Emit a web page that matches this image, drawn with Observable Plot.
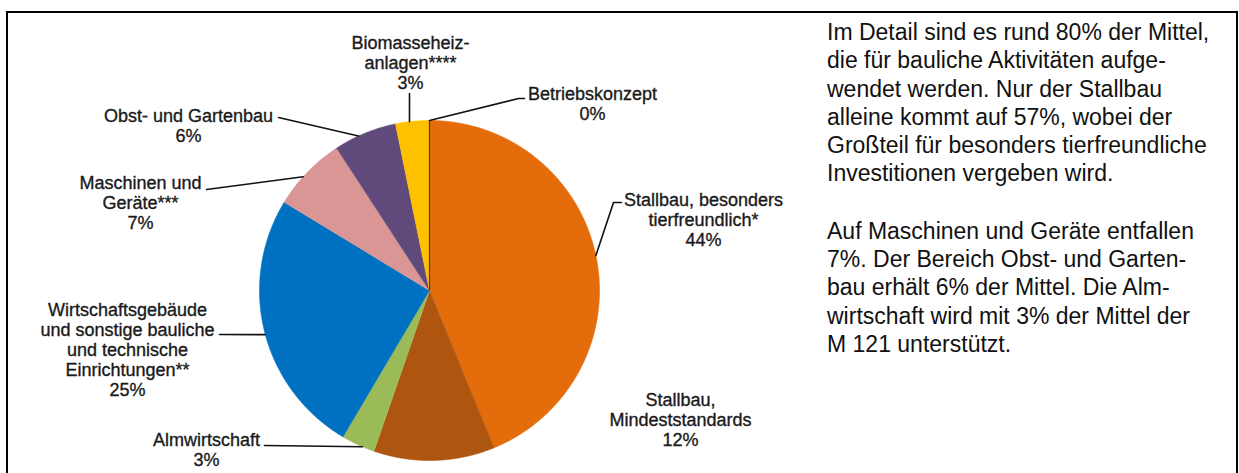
<!DOCTYPE html>
<html><head><meta charset="utf-8">
<script src="https://cdn.jsdelivr.net/npm/d3@7"></script>
<script src="https://cdn.jsdelivr.net/npm/@observablehq/plot@0.6"></script>
<style>
body{margin:0;background:#fff;}
#wrap{position:relative;width:1239px;height:473px;overflow:hidden;font-family:"Liberation Sans",Arial,Helvetica,sans-serif;background:#fff;}
#frame{position:absolute;left:6px;top:11px;width:1232px;height:480px;border:2px solid #000;box-sizing:border-box;}
#chart{position:absolute;left:0;top:0;}
#text{position:absolute;left:827px;top:18px;width:405px;font-size:23px;line-height:28.3px;color:#111;white-space:nowrap;}
#text p{margin:0 0 29px 0;}
</style></head>
<body><div id="wrap"><div id="frame"></div><div id="chart"></div><div id="text"></div></div>
<script>
// ---- data ----
const categories = [
  "Stallbau, besonders tierfreundlich*",
  "Stallbau, Mindeststandards",
  "Almwirtschaft",
  "Wirtschaftsgebäude und sonstige bauliche und technische Einrichtungen**",
  "Maschinen und Geräte***",
  "Obst- und Gartenbau",
  "Biomasseheizanlagen****",
  "Betriebskonzept"
];
const shares = [43.8, 11.5, 3.2, 25.2, 7.1, 6.0, 3.2, 0.0];
const pctLabels = ["44%", "12%", "3%", "25%", "7%", "6%", "3%", "0%"];
const labelLines = [
  ["Stallbau, besonders", "tierfreundlich*"],
  ["Stallbau,", "Mindeststandards"],
  ["Almwirtschaft"],
  ["Wirtschaftsgebäude", "und sonstige bauliche", "und technische", "Einrichtungen**"],
  ["Maschinen und", "Geräte***"],
  ["Obst- und Gartenbau"],
  ["Biomasseheiz-", "anlagen****"],
  ["Betriebskonzept"]
];
const sliceColors = ["#E46C0A", "#AE560F", "#9BBB59", "#0070C0", "#D99694", "#604A7B", "#FFC000", "#7F7F7F"];
const paragraph1 = [
  "Im Detail sind es rund 80% der Mittel,",
  "die für bauliche Aktivitäten aufge-",
  "wendet werden. Nur der Stallbau",
  "alleine kommt auf 57%, wobei der",
  "Großteil für besonders tierfreundliche",
  "Investitionen vergeben wird."
];
const paragraph2 = [
  "Auf Maschinen und Geräte entfallen",
  "7%. Der Bereich Obst- und Garten-",
  "bau erhält 6% der Mittel. Die Alm-",
  "wirtschaft wird mit 3% der Mittel der",
  "M 121 unterstützt."
];

// ---- layout (pixels) ----
const W = 1239, H = 473, CX = 429, CY = 290, R = 170, LH = 20, FS = 18;
// label centre x, first baseline y, leader elbow points (text side first), edge angle tweak (deg)
const labelLayout = [
  {x: 703, y: 205, leader: [[621, 202], [613, 202]], adj: -0.7},
  {x: 680, y: 405, leader: null, adj: 0},
  {x: 206, y: 445, leader: [[264, 445]], adj: -1.6},
  {x: 127, y: 315, leader: [[219, 334]], adj: -1},
  {x: 140, y: 188, leader: [[206, 189]], adj: -2.1},
  {x: 188, y: 121, leader: [[278, 117]], adj: -2.4},
  {x: 410, y: 48, leader: [[409, 93]], adj: -1},
  {x: 592, y: 99, leader: [[524, 98], [518, 98]], adj: 0}
];
const toX = px => (px - CX) / R;
const toY = py => (CY - py) / R;

// ---- pie geometry from data ----
const arcs = d3.pie().sort(null).value(d => d)(shares);
const slicePts = [];
arcs.forEach((a, i) => {
  if (a.endAngle - a.startAngle <= 0) return;
  const n = Math.max(4, Math.ceil((a.endAngle - a.startAngle) / 0.005));
  slicePts.push({cat: categories[i], x: 0, y: 0});
  for (let k = 0; k <= n; k++) {
    const t = a.startAngle + (a.endAngle - a.startAngle) * k / n;
    slicePts.push({cat: categories[i], x: Math.sin(t), y: Math.cos(t)});
  }
});
const zeroSlices = arcs.filter(a => a.endAngle - a.startAngle <= 0).map(a => ({
  x1: 0, y1: 0, x2: Math.sin(a.startAngle), y2: Math.cos(a.startAngle)
}));

const leaderPts = [];
arcs.forEach((a, i) => {
  const L = labelLayout[i];
  if (!L.leader) return;
  const mid = (a.startAngle + a.endAngle) / 2 + L.adj * Math.PI / 180;
  L.leader.forEach(([px, py]) => leaderPts.push({id: i, x: toX(px), y: toY(py)}));
  leaderPts.push({id: i, x: Math.sin(mid), y: Math.cos(mid)});
});

const labelData = categories.map((c, i) => {
  const lines = [...labelLines[i], pctLabels[i]];
  const L = labelLayout[i];
  return {text: lines.join("\n"), x: toX(L.x), y: toY(L.y + (lines.length - 1) * LH)};
});

const chart = Plot.plot({
  width: W, height: H,
  margin: 0,
  x: {domain: [toX(0), toX(W)], axis: null},
  y: {domain: [toY(H), toY(0)], axis: null},
  color: {domain: categories, range: sliceColors},
  style: {background: "transparent", overflow: "visible"},
  marks: [
    Plot.line(slicePts, {x: "x", y: "y", z: "cat", fill: "cat", stroke: "cat", strokeWidth: 0.6, curve: "linear"}),
    Plot.link(zeroSlices, {x1: "x1", y1: "y1", x2: "x2", y2: "y2", stroke: "#404040", strokeWidth: 1.2}),
    Plot.line(leaderPts, {x: "x", y: "y", z: "id", stroke: "#111", strokeWidth: 1.6}),
    Plot.text(labelData, {x: "x", y: "y", text: "text", lineAnchor: "bottom", lineHeight: LH / FS,
      fontSize: FS, fontFamily: "Liberation Sans, Arial, sans-serif", fill: "#1a1a1a",
      stroke: "#1a1a1a", strokeWidth: 0.35, textAnchor: "middle"})
  ]
});
document.getElementById("chart").appendChild(chart);

const tdiv = document.getElementById("text");
[paragraph1, paragraph2].forEach(p => {
  const el = document.createElement("p");
  el.innerHTML = p.map(s => s.replace(/&/g, "&amp;")).join("<br>");
  tdiv.appendChild(el);
});
</script>
</body></html>
